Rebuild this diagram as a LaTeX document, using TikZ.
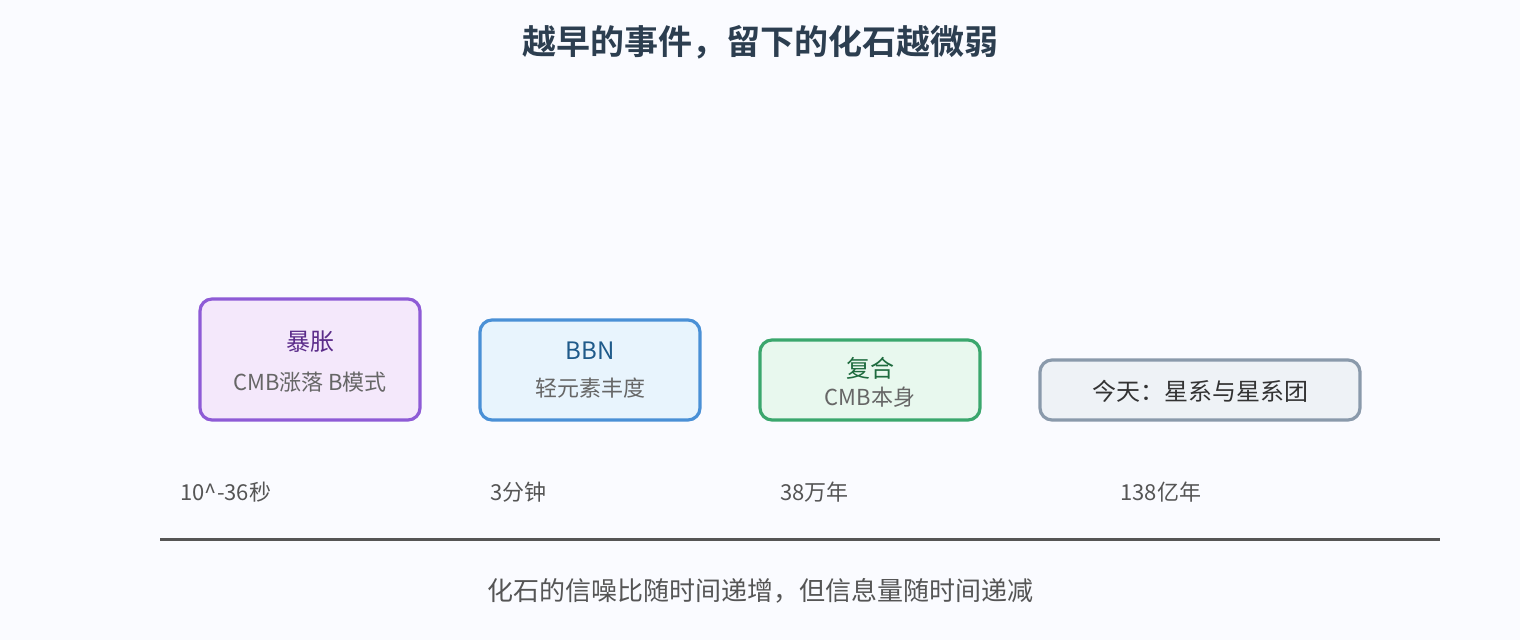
\documentclass[tikz,border=0pt]{standalone}
\usepackage{fontspec}
\setmainfont{Noto Sans CJK SC}
\newfontfamily\cjkbold{Noto Sans CJK SC Bold}
\usetikzlibrary{positioning}
\definecolor{bgc}{HTML}{FAFBFF}
\definecolor{titlec}{HTML}{2C3E50}
\definecolor{pborder}{HTML}{8E5BD6}
\definecolor{pfill}{HTML}{F4E8FB}
\definecolor{ptext}{HTML}{5B2C8A}
\definecolor{bborder}{HTML}{4A90D6}
\definecolor{bfill}{HTML}{E8F4FD}
\definecolor{btext}{HTML}{1F5A8A}
\definecolor{gborder}{HTML}{3AA76D}
\definecolor{gfill}{HTML}{E8F8EE}
\definecolor{gtext}{HTML}{1E6B3E}
\definecolor{sborder}{HTML}{8A9AAB}
\definecolor{sfill}{HTML}{EEF2F6}
\definecolor{stext}{HTML}{333333}
\definecolor{subc}{HTML}{666666}
\definecolor{labc}{HTML}{555555}
\tikzset{
  x=0.5pt, y=-0.5pt,
  ebox/.style={draw, line width=1.6pt, rounded corners=6pt},
  ttl/.style={font=\fontsize{12}{14}\selectfont, inner sep=0pt},
  sub/.style={font=\fontsize{11}{13}\selectfont, text=subc, inner sep=0pt},
  tlab/.style={font=\fontsize{11}{13}\selectfont, text=labc, anchor=west, inner sep=0pt},
}
\begin{document}
\begin{tikzpicture}
\fill[bgc] (0,0) rectangle (1520,640);
\useasboundingbox (0,0) rectangle (1520,640);
\node[font=\cjkbold\fontsize{17}{20}\selectfont, text=titlec, inner sep=0pt] (title) at (760,42) {越早的事件，留下的化石越微弱};
% boxes
\draw[ebox, draw=pborder, fill=pfill] (200,299) rectangle (420,420);
\node[ttl, text=ptext] (infl) at (310,342) {暴胀};
\node[sub] (inflsub) at (310,382) {CMB涨落 B模式};
\draw[ebox, draw=bborder, fill=bfill] (480,320) rectangle (700,420);
\node[ttl, text=btext] (bbn) at (590,351) {BBN};
\node[sub] (bbnsub) at (590,388) {轻元素丰度};
\draw[ebox, draw=gborder, fill=gfill] (760,340) rectangle (980,420);
\node[ttl, text=gtext] (rec) at (870,368) {复合};
\node[sub] (recsub) at (870,397) {CMB本身};
\draw[ebox, draw=sborder, fill=sfill] (1040,360) rectangle (1360,420);
\node[ttl, text=stext] (today) at (1200,391) {今天：星系与星系团};
% time labels
\node[tlab] (t1) at (180,492) {10\^{}-36秒};
\node[tlab] (t2) at (490,492) {3分钟};
\node[tlab] (t3) at (780,492) {38万年};
\node[tlab] (t4) at (1120,492) {138亿年};
% axis
\coordinate (axl) at (160,540);
\coordinate (axr) at (1440,540);
\draw[labc, line width=1.5pt] (axl) -- (axr);
\node[font=\fontsize{13}{15}\selectfont, text=labc, inner sep=0pt] (foot) at (760,591) {化石的信噪比随时间递增，但信息量随时间递减};
\end{tikzpicture}
\end{document}
